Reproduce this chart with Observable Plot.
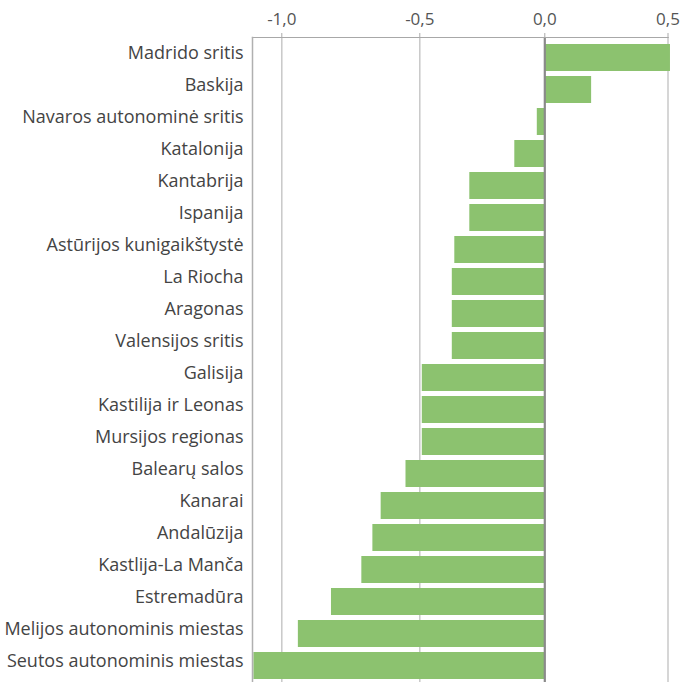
<!DOCTYPE html>
<html>
<head>
<meta charset="utf-8">
<script src="https://cdn.jsdelivr.net/npm/d3@7"></script>
<script src="https://cdn.jsdelivr.net/npm/@observablehq/plot@0.6"></script>
<style>
  html, body { margin: 0; padding: 0; background: #fff; }
  #chart svg { display: block; }
</style>
</head>
<body>
<div id="chart"></div>
<script>
const regions = [
  "Madrido sritis", "Baskija", "Navaros autonominė sritis", "Katalonija",
  "Kantabrija", "Ispanija", "Astūrijos kunigaikštystė", "La Riocha",
  "Aragonas", "Valensijos sritis", "Galisija", "Kastilija ir Leonas",
  "Mursijos regionas", "Balearų salos", "Kanarai", "Andalūzija",
  "Kastlija-La Manča", "Estremadūra", "Melijos autonominis miestas",
  "Seutos autonominis miestas"
];
const values = [
  0.51, 0.19, -0.03, -0.12,
  -0.30, -0.30, -0.36, -0.37,
  -0.37, -0.37, -0.49, -0.49,
  -0.49, -0.55, -0.64, -0.67,
  -0.71, -0.82, -0.94, -1.10
];
const xTicks = [-1.0, -0.5, 0, 0.5];

const data = regions.map((r, i) => ({region: r, value: values[i]}));
const fmt = d => d.toFixed(1).replace(".", ",");
const font = "'Open Sans', 'Noto Sans', sans-serif";

const chart = Plot.plot({
  width: 683,
  height: 682,
  marginLeft: 252,
  marginRight: 15.5,
  marginTop: 37,
  marginBottom: 0,
  style: {fontFamily: font, fontSize: "16px", color: "#444", background: "#fff"},
  x: {
    type: "linear",
    domain: [-1.105, -1.0, -0.5, 0, 0.5],
    range: [252, 281.3, 419.3, 544.3, 667.5],
    ticks: xTicks
  },
  y: {
    domain: regions,
    range: [37.5, 684.5],
    padding: 0.17,
    label: null
  },
  marks: [
    Plot.ruleX(xTicks.filter(d => d !== 0), {stroke: "#c8c8c8", strokeWidth: 1.5}),
    Plot.barX(data, {x: "value", y: "region", fill: "#8cc26f"}),
    Plot.ruleX([0], {stroke: "#8a8a8a", strokeWidth: 2.2}),
    Plot.frame({anchor: "top", stroke: "#a8a8a8", strokeWidth: 1.2}),
    Plot.frame({anchor: "left", stroke: "#b0b0b0", strokeWidth: 1.5}),
    Plot.axisX(xTicks, {anchor: "top", tickSize: 5, tickPadding: 8, tickFormat: fmt,
      stroke: "#aaa", fill: "#555", fontSize: 17, label: null}),
    Plot.axisY({anchor: "left", tickSize: 0, tickPadding: 9, dy: -5, fill: "#444", fontSize: 18, label: null})
  ]
});
document.getElementById("chart").appendChild(chart);
</script>
</body>
</html>
